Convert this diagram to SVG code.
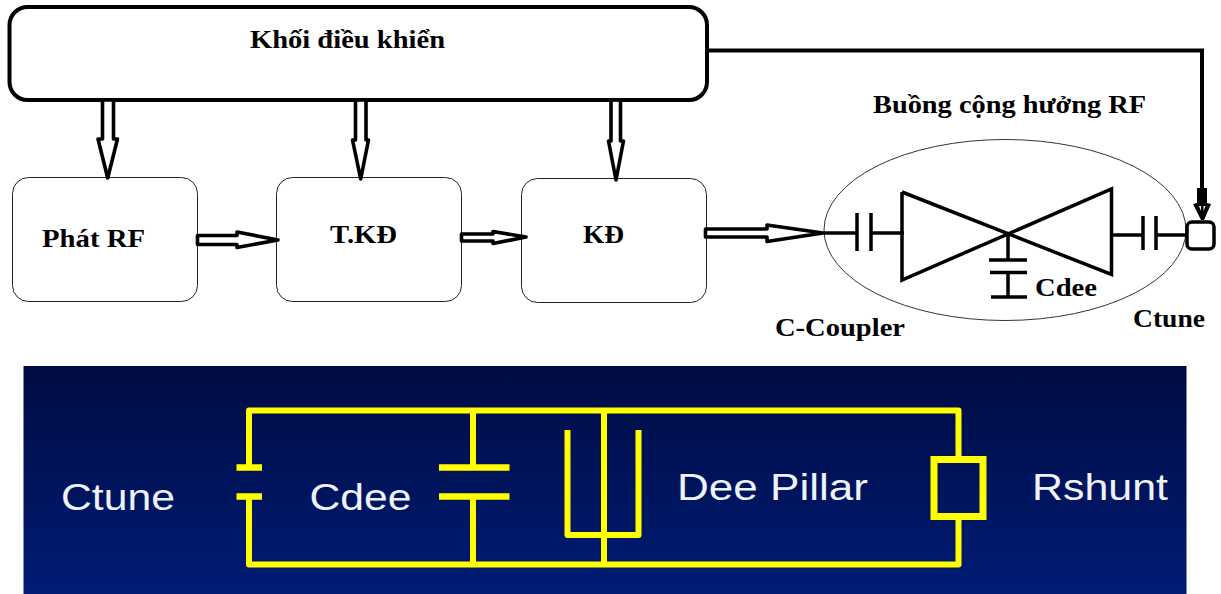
<svg xmlns="http://www.w3.org/2000/svg" width="1221" height="594" viewBox="0 0 1221 594">
<style>
.t{font-family:"Liberation Serif","Times New Roman",serif;font-weight:bold;fill:#000;font-size:26px}
.w{font-family:"Liberation Sans",Arial,sans-serif;fill:#eef2fa;font-size:37px}
.box{fill:#fff;stroke:#222;stroke-width:1}
.bk{fill:none;stroke:#000;stroke-width:3.500}
.ar{fill:#fff;stroke:#000;stroke-width:3.600;stroke-linejoin:round}
.y{fill:none;stroke:#ff0;stroke-width:6;stroke-linejoin:round}
</style>
<defs>
<linearGradient id="bg" x1="0" y1="0" x2="0" y2="1"><stop offset="0" stop-color="#000b42"/><stop offset="1" stop-color="#001c74"/></linearGradient>
</defs>
<rect width="1221" height="594" fill="#fff"/>
<g id="control"><rect x="9.500" y="7" width="697.500" height="93" rx="18" fill="#fff" stroke="#000" stroke-width="4"/>
<text class="t" x="250" y="48" textLength="195" lengthAdjust="spacingAndGlyphs">Khối điều khiển</text></g>
<g id="rf-source"><rect class="box" x="12.500" y="177.500" width="185" height="124" rx="16"/>
<text class="t" x="42" y="247" textLength="103" lengthAdjust="spacingAndGlyphs">Phát RF</text></g>
<g id="tkd"><rect class="box" x="276.500" y="177.500" width="185" height="124" rx="16"/>
<text class="t" x="330" y="243" textLength="67" lengthAdjust="spacingAndGlyphs">T.KĐ</text></g>
<g id="kd"><rect class="box" x="521.500" y="178.500" width="185" height="124" rx="16"/>
<text class="t" x="583" y="243" textLength="41" lengthAdjust="spacingAndGlyphs">KĐ</text></g>
<g id="cavity">
<text class="t" x="873" y="113" textLength="273" lengthAdjust="spacingAndGlyphs">Buồng cộng hưởng RF</text>
<ellipse cx="1005" cy="230" rx="181" ry="90.500" fill="#fff" stroke="#333" stroke-width="1"/>
<path class="bk" d="M824 233H857M871 233H904M857 213V251M871 213V251M902 192V280L1111.500 189V274.500L902 192M1113 235H1142M1156 235H1187M1143 216V250M1156 216V250M1008 233V260M989 260H1027M990 272.500H1027M1008 272.500V297M991 297H1027"/>
<text class="t" x="1035" y="296" textLength="62" lengthAdjust="spacingAndGlyphs">Cdee</text>
</g>
<g id="ctune-node"><rect x="1187" y="222" width="27" height="27" rx="5" fill="#fff" stroke="#000" stroke-width="3.500"/>
<text class="t" x="1133" y="327" textLength="72" lengthAdjust="spacingAndGlyphs">Ctune</text></g>
<g id="c-coupler"><text class="t" x="775" y="336" textLength="130" lengthAdjust="spacingAndGlyphs">C-Coupler</text></g>
<g id="connectors">
<path class="ar" d="M102.500 100V139H98L107.700 178L117.500 139H113.500V100Z"/>
<path class="ar" d="M355.500 100V140H352.500L360.700 179L368.500 140H366V100Z"/>
<path class="ar" d="M611 100V141H608.500L616 180L623.500 141H620.500V100Z"/>
<path class="ar" d="M197.500 235.500H237V232L278 240L237 247.500V244.500H197.500Z"/>
<path class="ar" d="M461.500 234H493V231.500L526 237L493 243.500V241H461.500Z"/>
<path class="ar" d="M705.500 229H767V225L823 233L767 241.500V237H705.500Z"/>
<path d="M707 50.500H1202V190" fill="none" stroke="#000" stroke-width="4"/>
<path d="M1197 188H1207V203L1211 204L1204 220H1201L1193 204L1197 203Z" fill="#000"/>
<path d="M1199 206L1201 211L1201 206ZM1203.500 206V211L1205.500 206Z" fill="#fff"/>
</g>
<g id="equivalent-circuit">
<rect x="23.500" y="366" width="1163" height="228" fill="url(#bg)"/>
<path class="y" d="M249 468V410.500H958.500V456M249 496V564.500H958.500V520M473 410.500V468M473 496V564.500M604 410.500V564.500M567.500 430V535H638.500V430"/>
<path class="y" style="stroke-width:6.500" d="M236.500 467.500H262M236.500 496.500H262M439 467.500H509.500M439 496.500H509.500"/>
<rect x="934" y="459.500" width="49" height="57" fill="none" stroke="#ff0" stroke-width="7"/>
<text class="w" x="61" y="510" textLength="114" lengthAdjust="spacingAndGlyphs">Ctune</text>
<text class="w" x="309.500" y="510" textLength="102" lengthAdjust="spacingAndGlyphs">Cdee</text>
<text class="w" x="677" y="500" textLength="191" lengthAdjust="spacingAndGlyphs">Dee Pillar</text>
<text class="w" x="1032" y="500" textLength="136" lengthAdjust="spacingAndGlyphs">Rshunt</text>
</g>
</svg>
